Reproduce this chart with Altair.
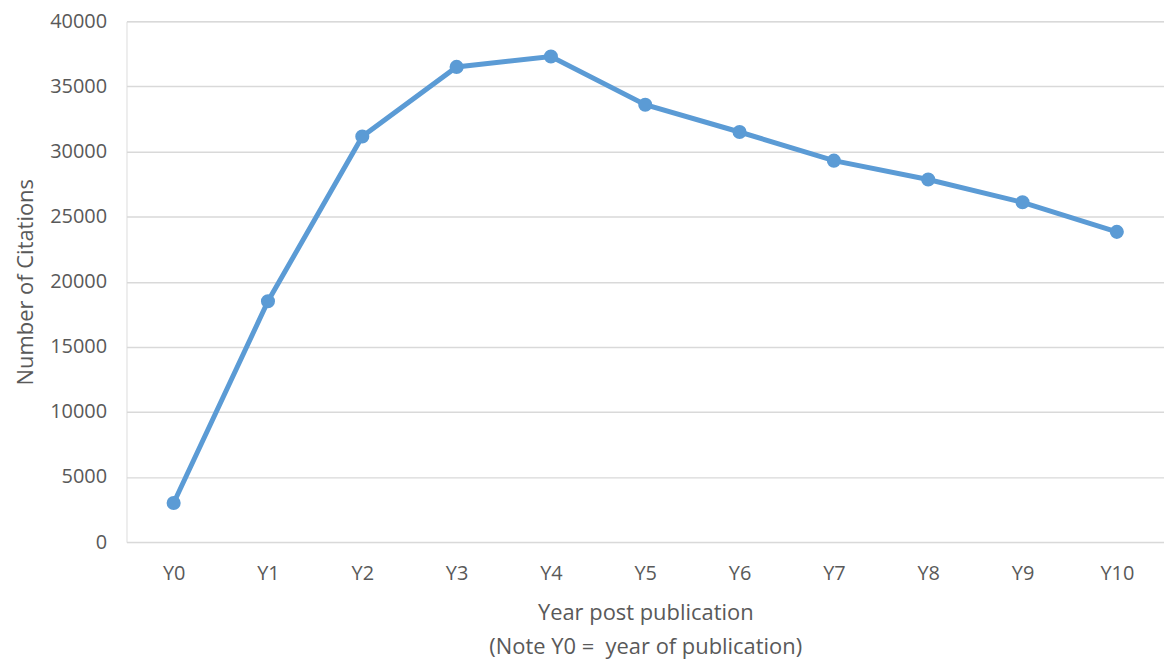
import altair as alt
import pandas as pd

years = ["Y0", "Y1", "Y2", "Y3", "Y4", "Y5", "Y6", "Y7", "Y8", "Y9", "Y10"]
citations = [3000, 18500, 31150, 36500, 37300, 33600, 31500, 29300, 27850, 26100, 23830]

df = pd.DataFrame({"year": years, "citations": citations})

FONT = "Open Sans"
TXT = "#595959"
BLUE = "#5B9BD5"

x = alt.X(
    "year:N",
    sort=years,
    scale=alt.Scale(type="point", padding=0.5),
    axis=alt.Axis(
        title=["Year post publication", "(Note Y0 =\u00a0 year of publication)"],
        titleFont=FONT, titleFontSize=22, titleFontWeight="normal", titleColor=TXT,
        titleLineHeight=34, titlePadding=19,
        labelFont=FONT, labelFontSize=20, labelColor=TXT, labelAngle=0, labelPadding=22,
        ticks=False, domain=False, grid=False,
    ),
)
y = alt.Y(
    "citations:Q",
    scale=alt.Scale(domain=[0, 40000]),
    axis=alt.Axis(
        title="Number of Citations",
        titleFont=FONT, titleFontSize=22, titleFontWeight="normal", titleColor=TXT,
        titlePadding=12,
        labelFont=FONT, labelFontSize=20, labelColor=TXT, labelPadding=20,
        values=[0, 5000, 10000, 15000, 20000, 25000, 30000, 35000, 40000],
        format="d",
        ticks=False, domain=False, grid=True, gridColor="#D9D9D9", gridWidth=1.5,
    ),
)

base = alt.Chart(df)
line = base.mark_line(color=BLUE, strokeWidth=5).encode(x=x, y=y)
pts = base.mark_circle(color=BLUE, size=200, opacity=1).encode(x=x, y=y)

chart = (
    alt.layer(line, pts)
    .properties(width=1042, height=523, padding={"left": 6, "top": 2, "right": 0, "bottom": 0})
    .configure_view(stroke=None)
    .configure(background="white")
)

chart.save("out.html", embed_options={"renderer": "svg", "actions": False})
